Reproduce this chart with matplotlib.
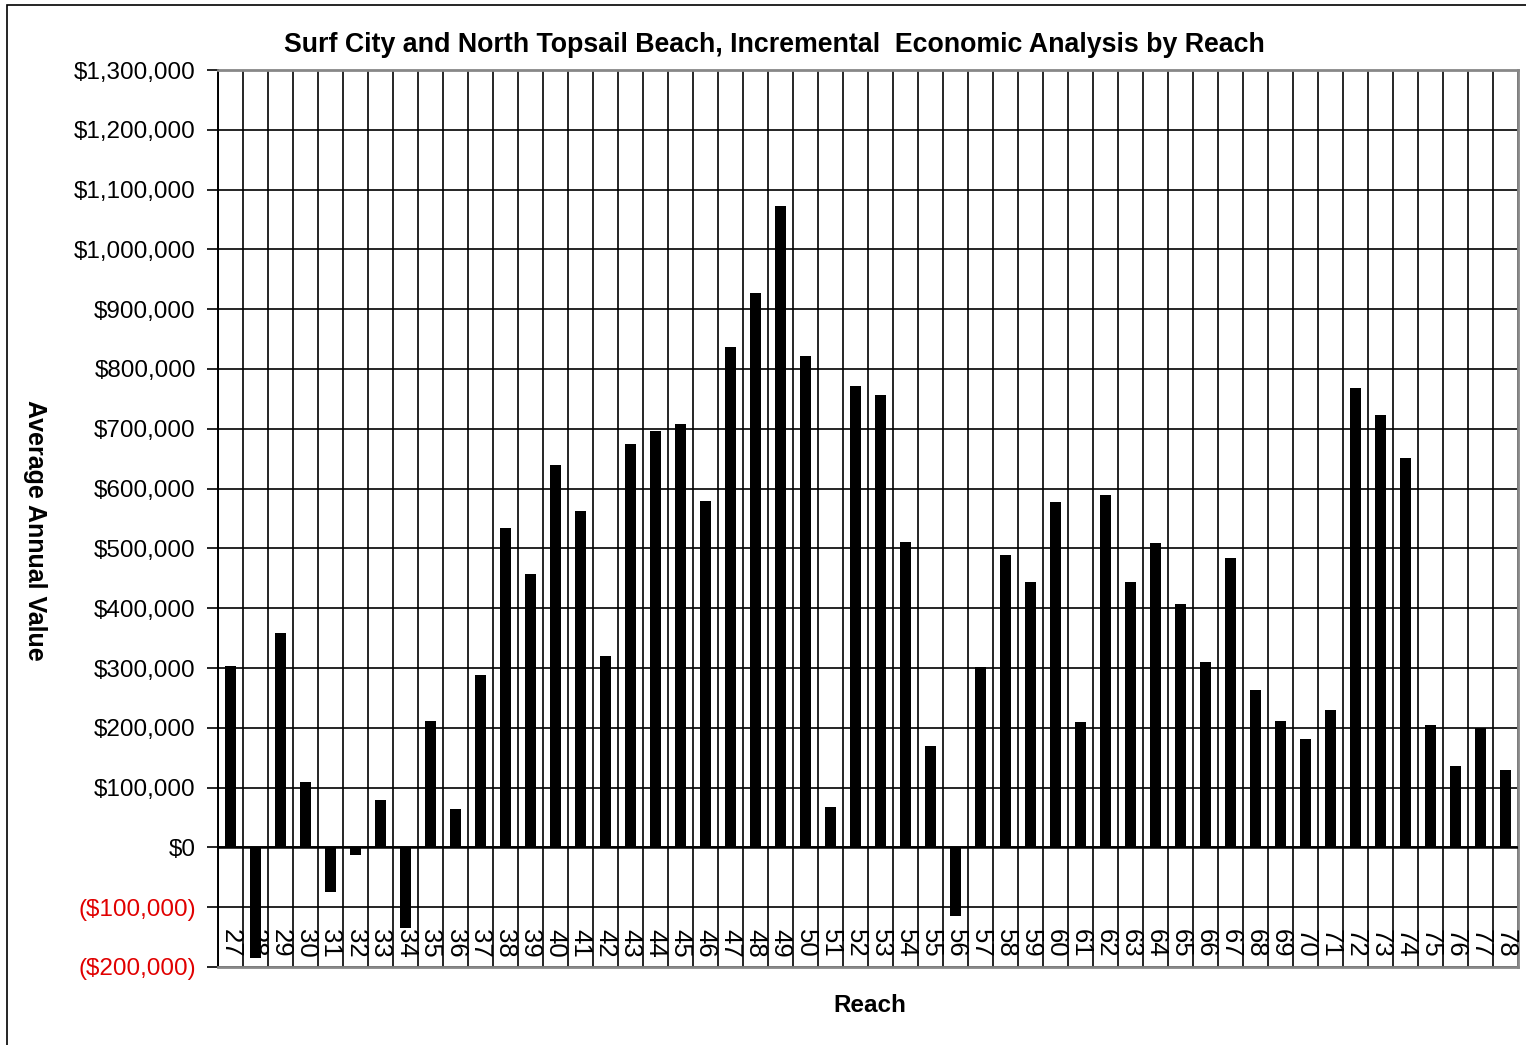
import matplotlib
matplotlib.use("Agg")
import matplotlib.pyplot as plt
from matplotlib.patches import Rectangle
from matplotlib.ticker import FuncFormatter, MultipleLocator

plt.rcParams['font.family'] = ['Liberation Sans', 'DejaVu Sans']

reaches = list(range(27, 79))
values = [
    303000, -185000, 358000, 109000, -74000, -12000, 79000, -134000,
    212000, 64000, 289000, 534000, 457000, 639000, 562000, 320000,
    674000, 696000, 708000, 580000, 836000, 927000, 1072000, 821000,
    67000, 771000, 756000, 510000, 169000, -115000, 301000, 489000,
    443000, 577000, 209000, 589000, 443000, 509000, 407000, 310000,
    484000, 264000, 212000, 181000, 229000, 768000, 723000, 651000,
    204000, 136000, 199000, 130000,
]
y_min, y_max, y_step = -200000, 1300000, 100000

fig = plt.figure(figsize=(15.26, 10.45), dpi=100)
ax = fig.add_axes([218 / 1526, 1 - 967 / 1045, 1300 / 1526, 897 / 1045])

n = len(reaches)
xs = list(range(n))
ax.bar(xs, values, width=0.44, color='black', zorder=4)

ax.set_xlim(-0.5, n - 0.5)
ax.set_ylim(y_min, y_max)

# grid: horizontal every $100,000, vertical at category boundaries
ax.yaxis.set_major_locator(MultipleLocator(y_step))
for v in range(y_min, y_max + 1, y_step):
    ax.axhline(v, color='black', lw=1.2, zorder=1)
for b in range(n + 1):
    ax.axvline(b - 0.5, color='black', lw=1.2, zorder=1)
ax.axhline(0, color='black', lw=1.8, zorder=5)


def money(v, pos):
    v = int(round(v))
    if v < 0:
        return "(${:,})".format(-v)
    return "${:,}".format(v)


ax.yaxis.set_major_formatter(FuncFormatter(money))
ax.tick_params(axis='y', direction='out', length=8, width=1.2, pad=8,
               labelsize=17.5, colors='black')
for lbl, v in zip(ax.get_yticklabels(), ax.get_yticks()):
    if v < 0:
        lbl.set_color('#e00000')

ax.set_xticks([])
for x, r in zip(xs, reaches):
    ax.text(x, -184000, str(r), rotation=270, ha='center', va='bottom',
            fontsize=18.5, zorder=3)

for side in ('top', 'right', 'bottom'):
    ax.spines[side].set_color('#888888')
    ax.spines[side].set_linewidth(2.0)
ax.spines['left'].set_color('black')
ax.spines['left'].set_linewidth(1.4)

fig.text(774 / 1526, 1 - 45 / 1045,
         "Surf City and North Topsail Beach, Incremental  Economic Analysis by Reach",
         ha='center', va='center', fontsize=19.3, fontweight='bold')
fig.text(35 / 1526, 1 - 530 / 1045, "Average Annual Value", rotation=270,
         ha='center', va='center', fontsize=18, fontweight='bold')
fig.text(870 / 1526, 1 - 1005 / 1045, "Reach",
         ha='center', va='center', fontsize=17.5, fontweight='bold')

# chart outer border
fig.patches.append(Rectangle((7 / 1526, -0.01), 1.02, 1 - 5 / 1045 + 0.01,
                             transform=fig.transFigure, fill=False,
                             edgecolor='black', lw=1.2))

fig.savefig("out.png", dpi=100)
